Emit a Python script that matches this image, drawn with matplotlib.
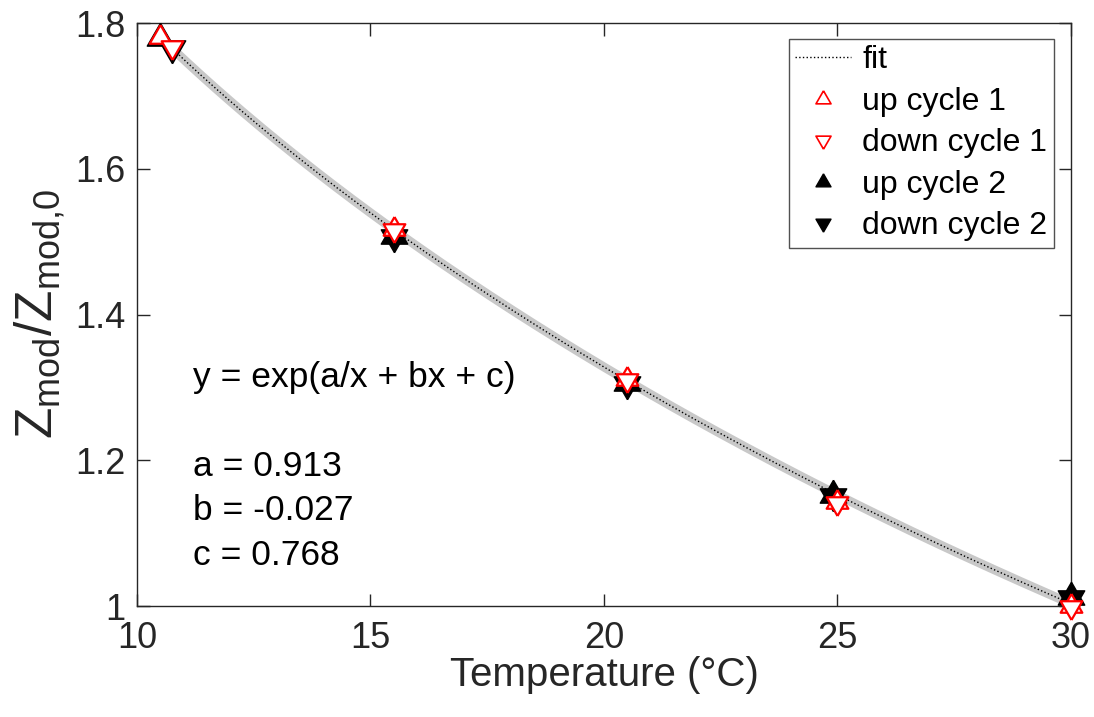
import numpy as np
import matplotlib
matplotlib.use("Agg")
import matplotlib.pyplot as plt
from matplotlib.ticker import FormatStrFormatter

plt.rcParams['font.family'] = ['Liberation Sans', 'DejaVu Sans']
plt.rcParams['mathtext.fontset'] = 'custom'
plt.rcParams['mathtext.rm'] = 'Liberation Sans'
plt.rcParams['mathtext.it'] = 'Liberation Sans'

# measured ratios, two temperature cycles
t_up1 = [10.5, 15.5, 20.5, 25.0, 30.0]
z_up1 = [1.781, 1.518, 1.312, 1.143, 1.000]
t_down1 = [10.75, 15.5, 20.5, 25.0, 30.0]
z_down1 = [1.767, 1.516, 1.310, 1.142, 0.998]
t_up2 = [10.5, 15.5, 20.5, 24.9, 30.0]
z_up2 = [1.780, 1.508, 1.306, 1.153, 1.013]
t_down2 = [10.75, 15.5, 20.5, 24.9, 30.0]
z_down2 = [1.766, 1.506, 1.304, 1.151, 1.011]

# fit y = exp(a/x + b*x + c)
a_fit, b_fit, c_fit = 0.9134, -0.02652, 0.7684
t_range = (10.5, 30.0)

t_fit = np.linspace(t_range[0], t_range[1], 200)
z_fit = np.exp(a_fit / t_fit + b_fit * t_fit + c_fit)

# equilateral triangles centred on their centroid
tri_up = [(0, 1), (-0.866, -0.5), (0.866, -0.5), (0, 1)]
tri_dn = [(0, -1), (-0.866, 0.5), (0.866, 0.5), (0, -1)]

fig = plt.figure(figsize=(10.94, 7.17), dpi=100)
ax = fig.add_axes([0.1252, 0.1548, 0.8537, 0.8131])

ax.plot(t_fit, z_fit, color='#c8c8c8', lw=6.5, solid_capstyle='butt', zorder=2)
fit_line, = ax.plot(t_fit, z_fit, ':', color='k', lw=1.0, zorder=3)

ax.plot(t_up2, z_up2, marker=tri_up, ms=22, mfc='k', mec='k', mew=1.0,
        ls='none', zorder=4, clip_on=False)
ax.plot(t_down2, z_down2, marker=tri_dn, ms=22, mfc='k', mec='k', mew=1.0,
        ls='none', zorder=4, clip_on=False)
ax.plot(t_up1, z_up1, marker=tri_up, ms=18, mfc='white', mec='#ff0000', mew=1.6,
        ls='none', zorder=5, clip_on=False)
ax.plot(t_down1, z_down1, marker=tri_dn, ms=18, mfc='white', mec='#ff0000', mew=1.6,
        ls='none', zorder=5, clip_on=False)

ax.set_xlim(10, 30)
ax.set_ylim(1, 1.8)
ax.set_xticks([10, 15, 20, 25, 30])
ax.set_yticks([1, 1.2, 1.4, 1.6, 1.8])
ax.yaxis.set_major_formatter(FormatStrFormatter('%g'))
ax.tick_params(direction='in', length=9, width=1, labelsize=26,
               top=True, right=True, colors='#262626', labelcolor='#262626')
ax.tick_params(axis='x', pad=11)
ax.tick_params(axis='y', pad=8)
for s in ax.spines.values():
    s.set_color('#262626')
    s.set_linewidth(1)

ax.set_xlabel('Temperature (°C)', fontsize=29, color='#262626', labelpad=0)
ax.set_ylabel(r'$\mathregular{Z_{mod}/Z_{mod{,}0}}$', fontsize=37, color='#262626', labelpad=6)

ax.text(11.2, 1.313, 'y = exp(a/x + bx + c)', fontsize=25.5, va='center', ha='left')
ax.text(11.2, 1.192, 'a = %.3f' % a_fit, fontsize=25.5, va='center', ha='left')
ax.text(11.2, 1.131, 'b = %.3f' % b_fit, fontsize=25.5, va='center', ha='left')
ax.text(11.2, 1.069, 'c = %.3f' % c_fit, fontsize=25.5, va='center', ha='left')

leg_up1 = plt.Line2D([], [], marker=tri_up, ls='none', ms=12.5, mfc='none', mec='#ff0000', mew=1.2)
leg_dn1 = plt.Line2D([], [], marker=tri_dn, ls='none', ms=12.5, mfc='none', mec='#ff0000', mew=1.2)
leg_up2 = plt.Line2D([], [], marker=tri_up, ls='none', ms=12.5, mfc='k', mec='k')
leg_dn2 = plt.Line2D([], [], marker=tri_dn, ls='none', ms=12.5, mfc='k', mec='k')
leg = ax.legend([fit_line, leg_up1, leg_dn1, leg_up2, leg_dn2],
                ['fit', 'up cycle 1', 'down cycle 1', 'up cycle 2', 'down cycle 2'],
                loc='upper right', bbox_to_anchor=(0.9818, 0.9726), borderaxespad=0,
                fontsize=23, frameon=True, fancybox=False, handlelength=1.75,
                handletextpad=0.35, labelspacing=0.36, borderpad=0.2)
leg.get_frame().set_edgecolor('#262626')
leg.get_frame().set_linewidth(1)

fig.savefig('out.png', dpi=100)
